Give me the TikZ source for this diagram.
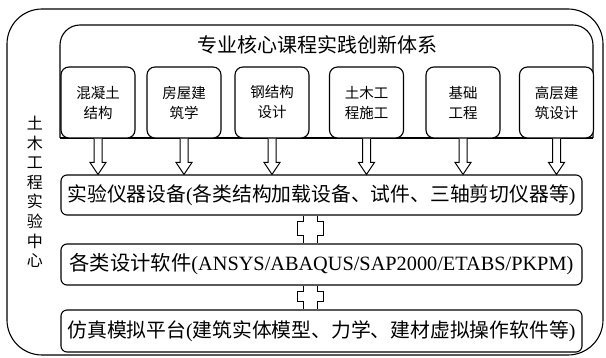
\documentclass[tikz,border=0pt]{standalone}
\usepackage{fontspec}
\setmainfont{Liberation Serif}
\newfontfamily\cjk{Noto Sans CJK SC}
\usetikzlibrary{calc}
\tikzset{
  frame/.style={draw, line width=1.1pt},
  cbox/.style={draw, line width=1.1pt, rounded corners=8pt, fill=white, minimum width=74pt, minimum height=71pt, inner sep=0pt, align=center, font=\cjk\fontsize{14.5}{20}\selectfont},
  barbox/.style={draw, line width=1.1pt, rounded corners=6pt, minimum width=521pt, inner sep=0pt, font=\fontsize{19.8}{24}\selectfont},
  conn/.style={draw, line width=1pt, fill=white, line join=miter},
}
\newcommand\hollowarrow[2]{%
  \draw[conn] let \p1=(#1.south), \p2=(#2.north) in
    (\x1-4pt,\y1) -- (\x1-4pt,\y2+12pt) -- (\x1-8pt,\y2+12pt) -- (\x1,\y2)
    -- (\x1+8pt,\y2+12pt) -- (\x1+4pt,\y2+12pt) -- (\x1+4pt,\y1);}
\newcommand\plusconn[2]{%
  \draw[conn] let \p1=($(#1.south)+(-11,0)$), \p2=($(#2.north)+(-11,0)$) in
    (\x1-7pt,\y1) -- (\x1-7pt,\y1-6pt) -- (\x1-13pt,\y1-6pt) -- (\x1-13pt,\y2+8pt)
    -- (\x1-7pt,\y2+8pt) -- (\x1-7pt,\y2)
    (\x1+7pt,\y1) -- (\x1+7pt,\y1-6pt) -- (\x1+13pt,\y1-6pt) -- (\x1+13pt,\y2+8pt)
    -- (\x1+7pt,\y2+8pt) -- (\x1+7pt,\y2);}
\begin{document}
\begin{tikzpicture}[x=1pt,y=-1pt]
\useasboundingbox (0,0) rectangle (606,358);
% outer frame
\draw[frame, rounded corners=35pt] (7,9) rectangle (603,355);
% inner frame
\draw[frame, rounded corners=20pt] (60,138) -- (60,25) -- (593,25) -- (593,138);
\draw[frame] (60,138) -- (593,138);
\node[font=\cjk\fontsize{20}{24}\selectfont, inner sep=0pt] (title) at (317,45) {专业核心课程实践创新体系};
% course boxes
\node[cbox] (c1) at (98,102.5) {混凝土\\结构};
\node[cbox] (c2) at (184,102.5) {房屋建\\筑学};
\node[cbox] (c3) at (272,102.5) {钢结构\\设计};
\node[cbox] (c4) at (366.5,102.5) {土木工\\程施工};
\node[cbox] (c5) at (463,102.5) {基础\\工程};
\node[cbox] (c6) at (556.5,102.5) {高层建\\筑设计};
% bars
\node[barbox, minimum height=40pt] (b1) at (321.5,195)
  {{\cjk 实验仪器设备}({\cjk 各类结构加载设备、试件、三轴剪切仪器等})};
\node[barbox, minimum height=41pt, font=\fontsize{20.3}{24}\selectfont] (b2) at (321.5,264.5)
  {{\cjk 各类设计软件}(ANSYS/ABAQUS/SAP2000/ETABS/PKPM)};
\node[barbox, minimum height=42pt] (b3) at (321.5,331)
  {{\cjk 仿真模拟平台}({\cjk 建筑实体模型、力学、建材虚拟操作软件等})};
% left label
\node[align=center, inner sep=0pt, font=\cjk\fontsize{16}{19.6}\selectfont] (lab) at (35,192)
  {土\\木\\工\\程\\实\\验\\中\\心};
% arrows
\hollowarrow{c1}{b1}
\hollowarrow{c2}{b1}
\hollowarrow{c3}{b1}
\hollowarrow{c4}{b1}
\hollowarrow{c5}{b1}
\hollowarrow{c6}{b1}
\plusconn{b1}{b2}
\plusconn{b2}{b3}
\end{tikzpicture}
\end{document}
